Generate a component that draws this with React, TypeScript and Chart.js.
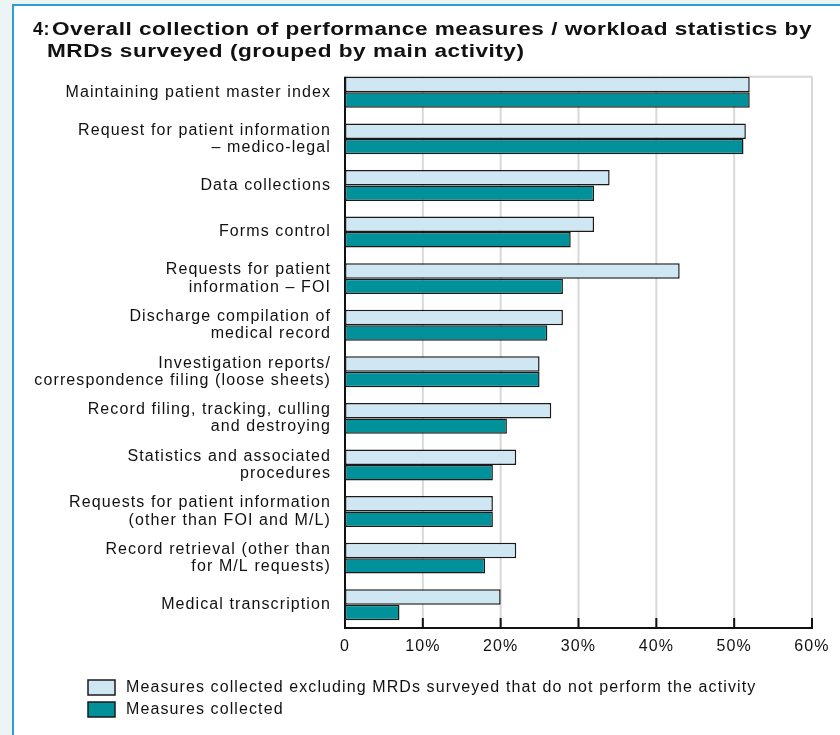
import React, { useEffect, useRef } from "react";
import { Chart, registerables } from "chart.js";

Chart.register(...registerables);

const TITLE_NUMBER = "4:";
const TITLE_LINES = [
  "Overall collection of performance measures / workload statistics by",
  "MRDs surveyed (grouped by main activity)",
];

const CATEGORIES: string[][] = [
  ["Maintaining patient master index"],
  ["Request for patient information", "– medico-legal"],
  ["Data collections"],
  ["Forms control"],
  ["Requests for patient", "information – FOI"],
  ["Discharge compilation of", "medical record"],
  ["Investigation reports/", "correspondence filing (loose sheets)"],
  ["Record filing, tracking, culling", "and destroying"],
  ["Statistics and associated", "procedures"],
  ["Requests for patient information", "(other than FOI and M/L)"],
  ["Record retrieval (other than", "for M/L requests)"],
  ["Medical transcription"],
];

const SERIES_NAMES = [
  "Measures collected excluding MRDs surveyed that do not perform the activity",
  "Measures collected",
];

const EXCLUDING = [52, 51.5, 34, 32, 43, 28, 25, 26.5, 22, 19, 22, 20];
const COLLECTED = [52, 51.2, 32, 29, 28, 26, 25, 20.8, 19, 19, 18, 7];

const X_TICKS = [0, 10, 20, 30, 40, 50, 60];

const LIGHT = "#cfe6f3";
const TEAL = "#00919a";
const EDGE = "#1a1a1a";
const FONT_FAMILY = '"Liberation Sans", Arial, Helvetica, sans-serif';
const LABEL_SIZE = 16;
const LABEL_SPACING = "1.1px";

function drawStretched(ctx: CanvasRenderingContext2D, text: string, x: number, y: number, sx: number) {
  ctx.save();
  ctx.translate(x, y);
  ctx.scale(sx, 1);
  ctx.fillText(text, 0, 0);
  ctx.restore();
}

const framePlugin = {
  id: "framePlugin",
  beforeUpdate(chart: any) {
    chart.ctx.letterSpacing = LABEL_SPACING;
  },
  beforeDraw(chart: any) {
    const ctx = chart.ctx as CanvasRenderingContext2D;
    const { width, height } = chart;
    ctx.save();
    ctx.fillStyle = "#edf4f6";
    ctx.fillRect(0, 0, width, height);
    ctx.fillStyle = "#ffffff";
    ctx.fillRect(14, 6, width - 14, height - 6);
    ctx.strokeStyle = "#2e9dd7";
    ctx.lineWidth = 2;
    ctx.beginPath();
    ctx.moveTo(13, height);
    ctx.lineTo(13, 5);
    ctx.lineTo(width, 5);
    ctx.stroke();

    // title (horizontally stretched to the reference's wide lettering)
    ctx.fillStyle = "#111111";
    ctx.font = "bold 18px " + FONT_FAMILY;
    ctx.textAlign = "left";
    ctx.textBaseline = "alphabetic";
    (ctx as any).letterSpacing = "0.4px";
    const natural = ctx.measureText(TITLE_LINES[0]).width;
    const target = chart.chartArea.right - 52;
    const sx = target / natural;
    drawStretched(ctx, TITLE_NUMBER, 33, 35, 1);
    drawStretched(ctx, TITLE_LINES[0], 52, 35, sx);
    drawStretched(ctx, TITLE_LINES[1], 47, 57, sx);
    ctx.restore();
    (ctx as any).letterSpacing = LABEL_SPACING;
  },
  beforeDatasetsDraw(chart: any) {
    const ctx = chart.ctx as CanvasRenderingContext2D;
    const xs = chart.scales.x;
    const first = chart.getDatasetMeta(0).data[0];
    const top = first.y - first.height / 2;
    const bottom = chart.chartArea.bottom;
    ctx.save();
    ctx.strokeStyle = "#d8d8d8";
    ctx.lineWidth = 2;
    ctx.beginPath();
    X_TICKS.forEach((v) => {
      const px = xs.getPixelForValue(v);
      ctx.moveTo(px, top);
      ctx.lineTo(px, bottom);
    });
    ctx.moveTo(xs.left, top);
    ctx.lineTo(xs.right, top);
    ctx.stroke();

    ctx.strokeStyle = "#111111";
    ctx.lineWidth = 2;
    ctx.beginPath();
    ctx.moveTo(xs.left, top);
    ctx.lineTo(xs.left, bottom);
    ctx.lineTo(xs.right + 1, bottom);
    X_TICKS.forEach((v) => {
      const px = xs.getPixelForValue(v);
      ctx.moveTo(px, bottom - 10);
      ctx.lineTo(px, bottom);
    });
    ctx.stroke();
    ctx.restore();
  },
  afterDraw(chart: any) {
    const ctx = chart.ctx as CanvasRenderingContext2D;
    ctx.save();
    (ctx as any).letterSpacing = LABEL_SPACING;
    ctx.font = LABEL_SIZE + "px " + FONT_FAMILY;
    ctx.textAlign = "left";
    ctx.textBaseline = "middle";
    chart.data.datasets.forEach((ds: any, i: number) => {
      const bx = 88;
      const by = 680 + i * 22;
      ctx.fillStyle = ds.backgroundColor;
      ctx.fillRect(bx, by, 27, 15);
      ctx.strokeStyle = EDGE;
      ctx.lineWidth = 1.5;
      ctx.strokeRect(bx, by, 27, 15);
      ctx.fillStyle = "#111111";
      ctx.fillText(ds.label, 126, by + 8);
    });
    ctx.restore();
  },
};

export default function App() {
  const canvasRef = useRef<HTMLCanvasElement | null>(null);

  useEffect(() => {
    if (!canvasRef.current) return;
    const chart = new Chart(canvasRef.current, {
      type: "bar",
      data: {
        labels: CATEGORIES,
        datasets: [
          {
            label: SERIES_NAMES[0],
            data: EXCLUDING,
            backgroundColor: LIGHT,
            borderColor: EDGE,
            borderWidth: 1.5,
            borderSkipped: false,
            barPercentage: 1,
            categoryPercentage: 0.665,
          },
          {
            label: SERIES_NAMES[1],
            data: COLLECTED,
            backgroundColor: TEAL,
            borderColor: EDGE,
            borderWidth: 1.5,
            borderSkipped: false,
            barPercentage: 1,
            categoryPercentage: 0.665,
          },
        ],
      },
      options: {
        indexAxis: "y",
        responsive: false,
        animation: false,
        layout: { padding: { left: 0, right: 28, top: 69, bottom: 0 } },
        plugins: {
          legend: { display: false },
          title: { display: false },
          tooltip: { enabled: false },
        },
        scales: {
          x: {
            type: "linear",
            min: 0,
            max: 60,
            afterFit: (scale: any) => {
              scale.height = 107;
            },
            afterBuildTicks: (scale: any) => {
              scale.ticks = X_TICKS.map((v) => ({ value: v }));
            },
            grid: { display: false, drawTicks: false },
            border: { display: false },
            ticks: {
              padding: 9,
              color: "#111111",
              font: { family: FONT_FAMILY, size: LABEL_SIZE },
              callback: (v: any) => (Number(v) === 0 ? "0" : v + "%"),
            },
          },
          y: {
            afterFit: (scale: any) => {
              scale.width = 345;
            },
            grid: { display: false, drawTicks: false },
            border: { display: false },
            ticks: {
              padding: 14,
              autoSkip: false,
              color: "#111111",
              font: { family: FONT_FAMILY, size: LABEL_SIZE, lineHeight: 1.07 },
            },
          },
        },
      },
      plugins: [framePlugin],
    });
    return () => chart.destroy();
  }, []);

  return (
    <div style={{ position: "fixed", left: 0, top: 0, width: 840, height: 735 }}>
      <canvas ref={canvasRef} width={840} height={735} />
    </div>
  );
}
